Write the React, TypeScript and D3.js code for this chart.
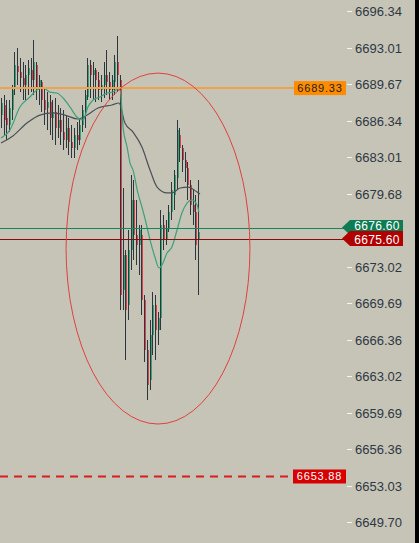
import { useRef, useEffect } from 'react';
import * as d3 from 'd3';

// candle values (price)
const opens = [6686.87, 6687.79, 6686.60, 6685.96, 6687.33, 6689.34, 6691.35, 6690.80, 6690.25, 6689.61, 6690.52, 6690.98, 6690.07, 6691.44, 6689.34, 6689.89, 6688.24, 6687.51, 6688.06, 6686.60, 6687.15, 6685.69, 6686.42, 6685.32, 6684.59, 6685.69, 6684.41, 6683.86, 6685.05, 6684.59, 6685.96, 6687.15, 6688.52, 6691.44, 6690.52, 6690.98, 6690.07, 6689.16, 6689.61, 6690.52, 6689.89, 6689.16, 6689.89, 6691.71, 6690.07, 6670.90, 6674.10, 6669.53, 6674.55, 6679.12, 6675.92, 6675.01, 6675.92, 6669.99, 6665.43, 6662.69, 6666.79, 6669.53, 6667.25, 6668.35, 6676.83, 6675.47, 6676.56, 6678.02, 6679.57, 6681.12, 6685.05, 6683.86, 6682.77, 6682.04, 6680.49, 6678.66, 6678.02, 6675.47];
const highs = [6688.43, 6688.70, 6688.24, 6688.24, 6689.61, 6692.62, 6692.99, 6692.08, 6691.71, 6691.44, 6691.89, 6692.08, 6693.72, 6691.71, 6690.52, 6690.07, 6689.34, 6688.97, 6688.70, 6688.24, 6688.43, 6687.79, 6687.51, 6687.33, 6686.87, 6686.60, 6685.96, 6685.69, 6686.24, 6686.60, 6687.79, 6689.16, 6692.08, 6691.89, 6691.71, 6691.16, 6690.80, 6690.52, 6691.71, 6692.81, 6690.80, 6690.52, 6692.35, 6694.08, 6690.52, 6680.21, 6674.55, 6676.38, 6681.40, 6680.94, 6679.12, 6676.83, 6676.83, 6670.45, 6666.34, 6668.16, 6670.72, 6670.45, 6668.89, 6678.20, 6677.75, 6677.29, 6678.66, 6680.76, 6681.85, 6686.42, 6685.69, 6684.14, 6683.50, 6682.58, 6680.94, 6680.03, 6679.57, 6680.94];
const lows = [6685.69, 6685.05, 6684.59, 6685.32, 6686.42, 6688.70, 6689.61, 6688.97, 6688.24, 6688.24, 6688.70, 6688.97, 6688.70, 6688.24, 6687.79, 6687.15, 6685.96, 6685.50, 6685.05, 6684.59, 6684.14, 6684.77, 6684.14, 6683.68, 6683.86, 6683.22, 6682.95, 6682.95, 6683.68, 6684.14, 6685.32, 6685.69, 6688.24, 6688.43, 6688.24, 6688.06, 6688.24, 6688.06, 6688.43, 6688.70, 6688.24, 6688.24, 6688.70, 6688.97, 6669.08, 6669.08, 6664.51, 6668.16, 6672.73, 6673.64, 6673.18, 6672.27, 6668.62, 6664.33, 6660.86, 6661.77, 6664.97, 6664.51, 6665.88, 6667.25, 6674.55, 6675.01, 6676.20, 6677.29, 6678.20, 6680.03, 6682.58, 6681.67, 6680.76, 6679.12, 6677.75, 6676.83, 6673.64, 6670.45];
const closes = [6687.97, 6686.42, 6685.96, 6687.51, 6689.16, 6691.44, 6690.80, 6690.25, 6689.61, 6690.52, 6691.16, 6690.07, 6691.71, 6689.34, 6690.07, 6688.24, 6687.33, 6688.06, 6686.60, 6687.15, 6685.69, 6686.42, 6685.32, 6684.59, 6685.69, 6684.41, 6683.86, 6685.05, 6684.59, 6685.96, 6687.33, 6688.70, 6691.44, 6690.52, 6690.98, 6690.07, 6689.16, 6689.61, 6690.52, 6689.89, 6689.16, 6690.07, 6691.71, 6690.52, 6670.45, 6674.10, 6669.08, 6674.55, 6679.12, 6675.92, 6675.01, 6676.38, 6669.99, 6665.43, 6662.23, 6666.79, 6669.53, 6667.25, 6668.35, 6676.83, 6675.47, 6676.56, 6678.02, 6680.03, 6681.40, 6685.50, 6683.86, 6682.77, 6682.04, 6680.49, 6678.66, 6678.02, 6675.01, 6676.20];

// moving averages, sampled at candle positions
const slowMaIdx = [0, 4.4, 9.6, 14.4, 19.3, 23.7, 28.5, 31.9, 35.9, 41.1, 43.7, 45.9, 48.9, 52.2, 55.2, 57.8, 61.5, 63.3, 66.3, 69.3, 72.6, 73.7];
const slowMa = [6684.32, 6684.96, 6686.14, 6686.87, 6687.06, 6686.87, 6686.51, 6686.87, 6687.51, 6687.79, 6687.97, 6686.14, 6685.32, 6683.95, 6681.85, 6680.30, 6679.76, 6679.76, 6680.21, 6680.30, 6679.85, 6679.66];
const fastMaIdx = [0, 3.3, 7.0, 10.7, 13.3, 15.6, 18.1, 20.7, 23.0, 25.6, 28.1, 30.4, 32.2, 34.1, 36.7, 39.3, 41.5, 43.3, 44.1, 44.8, 45.2, 46.7, 47.8, 48.9, 50.7, 52.2, 54.1, 55.2, 57.0, 58.5, 59.6, 61.5, 63.3, 65.2, 67.0, 68.9, 70.7, 72.6, 73.3];
const fastMa = [6684.77, 6685.50, 6687.60, 6688.52, 6689.16, 6689.34, 6688.97, 6688.88, 6688.43, 6687.60, 6686.69, 6686.42, 6687.60, 6688.24, 6688.52, 6688.88, 6688.97, 6689.25, 6689.16, 6687.33, 6685.78, 6683.95, 6682.49, 6681.85, 6679.76, 6678.48, 6676.65, 6675.47, 6673.91, 6672.91, 6673.18, 6674.28, 6674.83, 6676.38, 6677.93, 6678.84, 6679.12, 6678.66, 6678.02];

// 6676.35 sits under the level labels and is not shown
const priceTicks = [6696.34, 6693.01, 6689.67, 6686.34, 6683.01, 6679.68, 6673.02, 6669.69, 6666.36, 6663.02, 6659.69, 6656.36, 6653.03, 6649.70];

const orangeLevel = 6689.33;
const greenLevel = 6676.60;
const darkRedLevel = 6675.60;
const dashedLevel = 6653.88;

// ellipse annotation: candle index span and price span
const ellipseIdx = [24.1, 92.2];
const ellipsePrice = [6658.67, 6690.70];

export default function App() {
  const svgRef = useRef<SVGSVGElement>(null);

  useEffect(() => {
    if (!svgRef.current) return;
    const svg = d3.select(svgRef.current);
    svg.selectAll('*').remove();
    const W = 419, H = 543;
    const font = 'Liberation Sans, Arial, sans-serif';
    const x = d3.scaleLinear().domain([0, 73]).range([1, 198.1]);
    const y = d3.scaleLinear().domain([6649.70, 6696.34]).range([522.3, 11.3]);

    svg.append('rect').attr('width', W).attr('height', H).attr('fill', '#c6c4b6');

    // candles
    const g = svg.append('g').attr('shape-rendering', 'crispEdges');
    opens.forEach((o, i) => {
      const c = closes[i];
      const px = Math.round(x(i));
      const top = Math.round(y(Math.max(o, c)));
      const bot = Math.round(y(Math.min(o, c)));
      g.append('rect').attr('x', px).attr('width', 2).attr('y', top).attr('height', Math.max(1, bot - top))
        .attr('fill', c >= o ? '#2fa874' : '#de3f4c');
      g.append('rect').attr('x', px).attr('width', 1).attr('y', Math.round(y(highs[i])))
        .attr('height', Math.round(y(lows[i])) - Math.round(y(highs[i])))
        .attr('fill', '#2d353d');
    });

    // moving averages
    const line = d3.line<number>().curve(d3.curveMonotoneX);
    svg.append('path')
      .attr('d', line.x((_, i) => x(slowMaIdx[i])).y(d => y(d))(slowMa))
      .attr('fill', 'none').attr('stroke', '#4b5056').attr('stroke-width', 1.2);
    svg.append('path')
      .attr('d', line.x((_, i) => x(fastMaIdx[i])).y(d => y(d))(fastMa))
      .attr('fill', 'none').attr('stroke', '#3fa07c').attr('stroke-width', 1.2);

    // horizontal levels
    svg.append('line').attr('x1', 0).attr('x2', 295).attr('y1', y(orangeLevel)).attr('y2', y(orangeLevel))
      .attr('stroke', '#eea24c').attr('stroke-width', 2);
    svg.append('line').attr('x1', 0).attr('x2', 344).attr('y1', Math.round(y(greenLevel)) + 0.5).attr('y2', Math.round(y(greenLevel)) + 0.5)
      .attr('stroke', '#10875c').attr('stroke-width', 1);
    svg.append('line').attr('x1', 0).attr('x2', 344).attr('y1', Math.round(y(darkRedLevel)) + 0.5).attr('y2', Math.round(y(darkRedLevel)) + 0.5)
      .attr('stroke', '#8a0b0b').attr('stroke-width', 1);
    svg.append('line').attr('x1', 0).attr('x2', 292).attr('y1', y(dashedLevel)).attr('y2', y(dashedLevel))
      .attr('stroke', '#d81e1e').attr('stroke-width', 2).attr('stroke-dasharray', '8,6');

    // ellipse
    const ex0 = x(ellipseIdx[0]), ex1 = x(ellipseIdx[1]);
    const ey0 = y(ellipsePrice[1]), ey1 = y(ellipsePrice[0]);
    svg.append('ellipse').attr('cx', (ex0 + ex1) / 2).attr('cy', (ey0 + ey1) / 2)
      .attr('rx', (ex1 - ex0) / 2).attr('ry', (ey1 - ey0) / 2)
      .attr('fill', 'none').attr('stroke', '#e2403f').attr('stroke-width', 1);

    // price axis
    const axis = svg.append('g');
    priceTicks.forEach(t => {
      const ty = Math.round(y(t)) + 0.5;
      axis.append('line').attr('x1', 347).attr('x2', 352).attr('y1', ty).attr('y2', ty).attr('stroke', '#f4f4f0');
      axis.append('text').attr('x', 355).attr('y', ty).attr('dy', '0.36em')
        .attr('fill', '#2e3844').attr('font-size', 13).attr('font-family', font)
        .text(t.toFixed(2));
    });

    // level labels
    const boxLabel = (v: number, x0: number, fill: string, color: string) => {
      const cy = y(v);
      svg.append('rect').attr('x', x0).attr('y', cy - 7).attr('width', 346 - x0).attr('height', 14).attr('fill', fill);
      svg.append('text').attr('x', (x0 + 346) / 2).attr('y', cy).attr('dy', '0.36em').attr('text-anchor', 'middle')
        .attr('fill', color).attr('font-size', 11).attr('letter-spacing', 0.8)
        .attr('font-family', font).text(v.toFixed(2));
    };
    boxLabel(orangeLevel, 294, '#ff8c00', '#1d1d1d');
    boxLabel(dashedLevel, 293, '#d70000', '#ffffff');

    const arrowLabel = (v: number, fill: string, shift: number) => {
      const cy = y(v);
      svg.append('path')
        .attr('d', `M342,${cy} L350,${cy - 7.5} L403,${cy - 7.5} L403,${cy + 7.5} L350,${cy + 7.5} Z`)
        .attr('fill', fill);
      svg.append('text').attr('x', 377).attr('y', cy + shift).attr('dy', '0.36em').attr('text-anchor', 'middle')
        .attr('fill', '#ffffff').attr('font-size', 12).attr('letter-spacing', 0.3)
        .attr('font-family', font).text(v.toFixed(2));
    };
    arrowLabel(greenLevel, '#0d7c54', -2);
    arrowLabel(darkRedLevel, '#b10000', 1);

    // right edge strip
    svg.append('rect').attr('x', 415).attr('y', 0).attr('width', 4).attr('height', H).attr('fill', '#000');
  }, []);

  return (
    <div style={{ position: 'fixed', left: 0, top: 0 }}>
      <svg ref={svgRef} width={419} height={543} style={{ display: 'block' }} />
    </div>
  );
}
